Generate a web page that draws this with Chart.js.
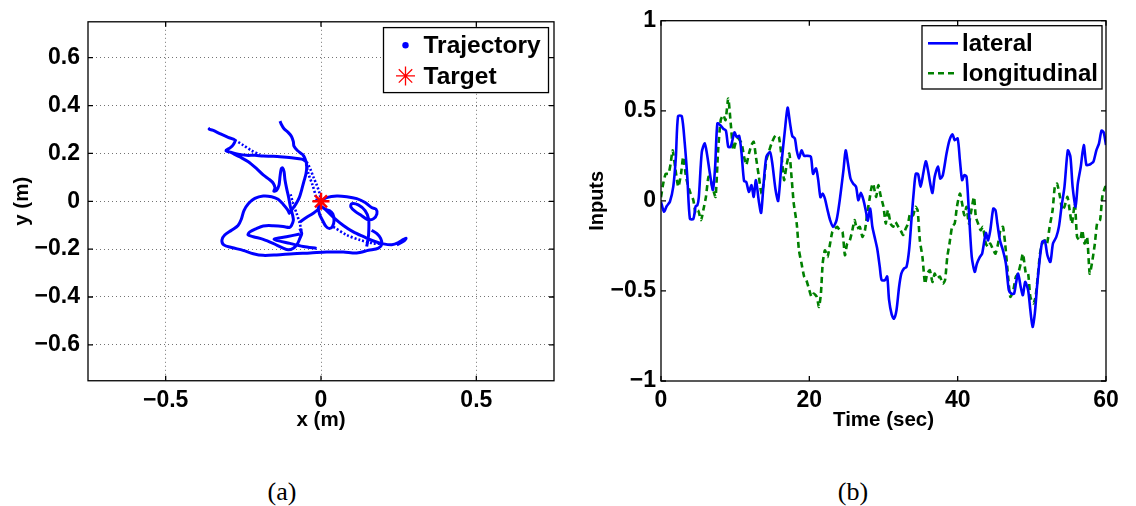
<!DOCTYPE html>
<html>
<head>
<meta charset="utf-8">
<script src="https://cdn.jsdelivr.net/npm/chart.js@4.4.1/dist/chart.umd.min.js"></script>
<style>
  html, body { margin: 0; padding: 0; background: #fff; }
  body { width: 1136px; height: 506px; position: relative; overflow: hidden; }
  .panel { position: absolute; top: 0; height: 440px; }
  #left { left: 0; width: 570px; }
  #right { left: 570px; width: 566px; }
  .cap { position: absolute; top: 477px; line-height: 30px; font-family: "Liberation Serif", "DejaVu Serif", serif;
         font-size: 26px; transform: translateX(-50%); }
</style>
</head>
<body>
<div class="panel" id="left"><canvas id="traj"></canvas></div>
<div class="panel" id="right"><canvas id="inputs"></canvas></div>
<div class="cap" style="left:282px">(a)</div>
<div class="cap" style="left:853px">(b)</div>
<script>
// ---- (a) planar trajectory, metres: pieces of the recorded path ----
const armNW = [[-0.356,0.305],[-0.360,0.301],[-0.349,0.297],[-0.326,0.283],[-0.299,0.267],[-0.277,0.256],
  [-0.283,0.235],[-0.294,0.222],[-0.306,0.212],[-0.291,0.205],[-0.267,0.197],[-0.240,0.192],[-0.213,0.192],
  [-0.186,0.189],[-0.154,0.188],[-0.122,0.185],[-0.089,0.181],[-0.062,0.176],[-0.046,0.165]];
const spurW = [[-0.288,0.203],[-0.261,0.185],[-0.234,0.165],[-0.208,0.137],[-0.186,0.110],[-0.165,0.090],
  [-0.154,0.076],[-0.148,0.056],[-0.152,0.042],[-0.143,0.046],[-0.135,0.069],[-0.132,0.103],[-0.128,0.135],
  [-0.124,0.140],[-0.119,0.124],[-0.116,0.090],[-0.111,0.056],[-0.104,0.015],[-0.098,-0.026],[-0.091,-0.060],
  [-0.089,-0.080],[-0.095,-0.101],[-0.102,-0.110],[-0.109,-0.107]];
const armN = [[-0.132,0.335],[-0.129,0.325],[-0.119,0.303],[-0.105,0.287],[-0.095,0.271],[-0.089,0.249],
  [-0.087,0.230],[-0.076,0.212],[-0.059,0.195],[-0.051,0.176],[-0.046,0.151],[-0.048,0.117],[-0.055,0.083],
  [-0.062,0.049],[-0.070,0.015],[-0.081,-0.012],[-0.095,-0.037],[-0.105,-0.053]];
const loopSW = [[-0.100,-0.053],[-0.109,-0.033],[-0.122,-0.012],[-0.138,0.008],[-0.159,0.019],[-0.186,0.022],
  [-0.213,0.012],[-0.234,-0.010],[-0.248,-0.039],[-0.256,-0.073],[-0.267,-0.101],[-0.288,-0.121],[-0.310,-0.141],
  [-0.319,-0.162],[-0.313,-0.182],[-0.288,-0.193],[-0.251,-0.205],[-0.218,-0.219],[-0.186,-0.226],[-0.143,-0.224],
  [-0.089,-0.219],[-0.035,-0.216],[0.018,-0.212],[0.072,-0.212],[0.115,-0.216],[0.153,-0.205],[0.185,-0.196],
  [0.196,-0.178],[0.192,-0.155],[0.180,-0.135],[0.163,-0.121]];
const loopInner = [[-0.105,-0.110],[-0.122,-0.105],[-0.154,-0.102],[-0.186,-0.103],[-0.208,-0.114],[-0.229,-0.128],
  [-0.235,-0.140],[-0.218,-0.148],[-0.186,-0.159],[-0.154,-0.176],[-0.122,-0.196],[-0.105,-0.203],[-0.089,-0.196],
  [-0.076,-0.178],[-0.068,-0.155],[-0.062,-0.135],[-0.068,-0.114]];
const tailS = [[-0.068,-0.137],[-0.111,-0.148],[-0.151,-0.159],[-0.100,-0.176],[-0.057,-0.189],[-0.014,-0.197]];
const linkCentre = [[-0.068,-0.087],[-0.046,-0.067],[-0.025,-0.050],[-0.009,-0.033],[-0.001,-0.012]];
const loopCentre = [[-0.001,-0.001],[-0.008,-0.026],[-0.005,-0.053],[0.005,-0.080],[0.016,-0.105],[0.027,-0.114],
  [0.037,-0.105],[0.042,-0.080],[0.038,-0.053],[0.027,-0.039],[0.013,-0.033],[-0.001,-0.019]];
const loopE = [[-0.001,0.001],[0.018,0.015],[0.051,0.022],[0.083,0.019],[0.115,0.011],[0.142,-0.005],[0.163,-0.026],
  [0.177,-0.033],[0.180,-0.053],[0.169,-0.073],[0.149,-0.076],[0.131,-0.060],[0.110,-0.042],[0.096,-0.023],
  [0.099,-0.010],[0.120,-0.015],[0.142,-0.039],[0.153,-0.073],[0.154,-0.114],[0.152,-0.155],[0.147,-0.189]];
const armE = [[0.013,-0.033],[0.040,-0.067],[0.072,-0.101],[0.104,-0.128],[0.137,-0.148],[0.169,-0.166],
  [0.201,-0.178],[0.228,-0.182],[0.249,-0.173],[0.266,-0.159],[0.274,-0.155],[0.268,-0.165],[0.244,-0.182]];
// stretches covered quickly (sparse samples)
const dotsNW = [[-0.046,0.165],[-0.035,0.137],[-0.025,0.103],[-0.014,0.069],[-0.005,0.035],[-0.001,0.008]];
const dotsNWshort = [[-0.277,0.256],[-0.251,0.235],[-0.224,0.212],[-0.197,0.195]];
const dotsN = [[-0.048,0.155],[-0.040,0.113],[-0.027,0.067],[-0.016,0.018],[-0.012,-0.005]];
const dotsInner = [[-0.098,0.029],[-0.089,-0.012],[-0.078,-0.053],[-0.068,-0.094],[-0.062,-0.128]];
const dotsSE = [[0.040,-0.107],[0.083,-0.141],[0.126,-0.162],[0.169,-0.176],[0.196,-0.178]];
const target = [0, 0];
const xTicksA = [-0.5, 0, 0.5];
const yTicksA = [-0.6, -0.4, -0.2, 0, 0.2, 0.4, 0.6];

// ---- (b) control inputs over time: [time (sec), value] ----
const lateral = [[0,-0.005],[0.4,-0.06],[0.76,-0.03],[1.2,-0.005],[1.66,0.08],[2.0,0.24],[2.3,0.47],[2.8,0.47],
  [3.2,0.32],[3.55,0.13],[3.9,-0.10],[4.36,-0.10],[4.67,-0.03],[4.9,-0.025],[5.1,0.02],[5.5,0.27],[5.9,0.32],
  [6.2,0.26],[6.6,0.15],[7.0,0.06],[7.3,0.19],[7.6,0.43],[8.0,0.42],[8.4,0.40],[8.75,0.39],[9.07,0.30],[9.4,0.30],
  [9.9,0.38],[10.2,0.355],[10.55,0.36],[10.87,0.26],[11.2,0.11],[11.5,0.105],[11.85,0.05],[12.2,0.087],[12.5,0.022],
  [12.8,0.115],[13.2,-0.005],[13.5,-0.067],[13.8,0.078],[14.2,0.244],[14.7,0.27],[15.0,0.21],[15.45,0.06],[15.8,0.0],
  [16.25,0.21],[16.7,0.39],[17.07,0.517],[17.4,0.43],[17.7,0.36],[18.05,0.345],[18.3,0.28],[18.6,0.235],[18.95,0.28],
  [19.3,0.25],[19.7,0.25],[20.2,0.245],[20.5,0.15],[20.9,0.18],[21.2,0.115],[21.5,0.02],[21.8,0.04],[22.1,0.013],
  [22.45,-0.05],[22.8,-0.107],[23.2,-0.145],[23.67,-0.107],[24.1,0.004],[24.6,0.17],[24.9,0.28],[25.2,0.21],
  [25.55,0.124],[25.9,0.096],[26.3,0.078],[26.6,0.004],[26.95,0.044],[27.3,0.004],[27.6,-0.052],[27.9,-0.11],
  [28.2,-0.043],[28.5,-0.144],[28.8,-0.2],[29.15,-0.265],[29.5,-0.367],[29.75,-0.44],[30.2,-0.44],[30.5,-0.42],
  [30.75,-0.55],[31.1,-0.63],[31.4,-0.654],[31.75,-0.607],[32.1,-0.478],[32.4,-0.404],[32.75,-0.376],[33.1,-0.367],
  [33.45,-0.274],[33.8,-0.089],[34.1,0.06],[34.35,0.15],[34.67,0.148],[35.0,0.078],[35.35,0.15],[35.7,0.22],
  [36.0,0.17],[36.3,0.096],[36.6,0.044],[36.9,0.133],[37.35,0.19],[37.65,0.124],[38.0,0.143],[38.5,0.263],
  [38.9,0.337],[39.3,0.37],[39.6,0.337],[40.0,0.346],[40.3,0.226],[40.6,0.115],[40.9,0.143],[41.2,0.133],
  [41.5,-0.052],[41.9,-0.311],[42.3,-0.394],[42.6,-0.348],[43.0,-0.311],[43.3,-0.293],[43.8,-0.178],[44.1,-0.219],
  [44.4,-0.163],[44.8,-0.043],[45.1,-0.052],[45.35,-0.126],[45.7,-0.219],[46.1,-0.274],[46.5,-0.348],[46.9,-0.496],
  [47.25,-0.515],[47.6,-0.515],[47.85,-0.46],[48.15,-0.404],[48.5,-0.478],[48.8,-0.524],[49.1,-0.45],[49.5,-0.496],
  [49.8,-0.607],[50.1,-0.7],[50.4,-0.626],[50.7,-0.478],[51.05,-0.33],[51.4,-0.228],[51.75,-0.222],[52.1,-0.302],
  [52.5,-0.339],[52.85,-0.237],[53.3,-0.2],[53.65,-0.144],[54.0,-0.033],[54.4,0.078],[54.85,0.28],[55.2,0.245],
  [55.5,0.078],[55.9,-0.033],[56.2,0.096],[56.6,0.19],[57.0,0.31],[57.35,0.2],[57.7,0.2],[58.0,0.207],[58.3,0.217],
  [58.7,0.28],[59.05,0.318],[59.4,0.39],[59.7,0.378],[60.0,0.31]];
const longitudinal = [[0,0.02],[0.3,0.096],[0.63,0.15],[1.0,0.15],[1.3,0.207],[1.57,0.28],[1.9,0.19],[2.33,0.078],
  [2.7,0.15],[3.0,0.244],[3.37,0.133],[3.7,0.078],[4.0,0.04],[4.36,0.004],[4.67,-0.07],[5.0,-0.052],[5.4,-0.107],
  [5.7,-0.052],[6.06,0.022],[6.4,0.133],[6.7,0.115],[7.05,0.06],[7.36,0.022],[7.7,0.28],[8.05,0.448],[8.4,0.476],
  [8.7,0.448],[9.07,0.568],[9.4,0.43],[9.75,0.28],[10.1,0.328],[10.4,0.346],[10.87,0.318],[11.2,0.244],[11.5,0.2],
  [11.86,0.263],[12.2,0.31],[12.5,0.328],[12.8,0.244],[13.2,0.133],[13.56,0.04],[13.9,0.115],[14.2,0.226],[14.6,0.28],
  [14.9,0.318],[15.3,0.355],[15.6,0.365],[15.9,0.355],[16.26,0.244],[16.6,0.115],[16.9,0.19],[17.3,0.263],[17.6,0.133],
  [17.9,-0.015],[18.3,-0.126],[18.6,-0.274],[18.95,-0.348],[19.3,-0.42],[19.6,-0.44],[20.0,-0.496],[20.3,-0.533],
  [20.6,-0.515],[21.0,-0.533],[21.3,-0.589],[21.56,-0.515],[21.8,-0.348],[22.1,-0.274],[22.45,-0.311],[22.8,-0.237],
  [23.1,-0.172],[23.45,-0.154],[23.76,-0.144],[24.1,-0.163],[24.47,-0.172],[24.8,-0.302],[25.1,-0.237],[25.46,-0.219],
  [25.8,-0.163],[26.1,-0.107],[26.4,-0.154],[26.8,-0.144],[27.16,-0.2],[27.5,-0.163],[27.8,-0.07],[28.1,0.004],
  [28.4,0.078],[28.6,0.096],[29.0,0.022],[29.3,0.087],[29.6,0.031],[30.0,-0.033],[30.3,-0.126],[30.6,-0.052],
  [30.96,-0.126],[31.3,-0.144],[31.6,-0.117],[32.0,-0.144],[32.3,-0.163],[32.65,-0.19],[33.0,-0.154],[33.3,-0.126],
  [33.6,-0.07],[34.0,-0.08],[34.3,-0.033],[34.6,-0.052],[34.9,-0.219],[35.25,-0.311],[35.6,-0.46],[35.9,-0.404],
  [36.25,-0.385],[36.6,-0.45],[36.9,-0.404],[37.2,-0.43],[37.6,-0.42],[38.0,-0.46],[38.3,-0.44],[38.6,-0.311],
  [38.9,-0.237],[39.25,-0.144],[39.6,-0.126],[39.9,-0.033],[40.3,0.04],[40.6,-0.015],[40.9,-0.08],[41.2,-0.033],
  [41.5,-0.126],[41.85,-0.052],[42.2,0.022],[42.45,-0.089],[42.75,-0.126],[43.1,-0.163],[43.4,-0.144],[43.8,-0.237],
  [44.1,-0.256],[44.4,-0.237],[44.8,-0.274],[45.1,-0.293],[45.45,-0.237],[45.76,-0.163],[46.1,-0.144],[46.4,-0.237],
  [46.8,-0.42],[47.1,-0.533],[47.5,-0.496],[47.85,-0.42],[48.15,-0.404],[48.5,-0.348],[48.8,-0.293],[49.2,-0.404],
  [49.5,-0.404],[49.8,-0.533],[50.2,-0.57],[50.5,-0.533],[50.8,-0.42],[51.1,-0.293],[51.4,-0.237],[51.75,-0.219],
  [52.05,-0.237],[52.4,-0.144],[52.8,-0.052],[53.1,0.078],[53.4,0.096],[53.8,0.022],[54.1,-0.052],[54.4,-0.033],
  [54.8,0.022],[55.1,-0.052],[55.4,-0.126],[55.8,-0.015],[56.1,-0.2],[56.5,-0.219],[56.8,-0.163],[57.1,-0.237],
  [57.45,-0.2],[57.8,-0.404],[58.1,-0.348],[58.5,-0.237],[58.8,-0.126],[59.2,-0.107],[59.5,0.022],[59.9,0.078],[60,0.06]];
const xTicksB = [0, 20, 40, 60];
const yTicksB = [-1, -0.5, 0, 0.5, 1];

// ---- helpers ----
const FONT = '"Liberation Sans", Arial, Helvetica, sans-serif';
Chart.defaults.font.family = FONT;
Chart.defaults.font.weight = 'bold';
Chart.defaults.color = '#000';

const fmt = v => v === 0 ? '0' : (v < 0 ? '\u2212' : '') + String(Math.abs(v));
const toPts = arr => arr.map(p => ({x: p[0], y: p[1]}));
// join separate strokes into one dataset, with gaps between them
const joinStrokes = strokes => strokes.reduce((acc, s, i) => {
  if (i) acc.push({x: null, y: null});
  return acc.concat(toPts(s));
}, []);
const fixTicks = vals => scale => { scale.ticks = vals.map(v => ({value: v})); };

// axes box with inward tick marks on all four sides
const frameTicks = {
  id: 'frameTicks',
  afterDatasetsDraw(chart, args, opts) {
    const {ctx, chartArea: a, scales} = chart;
    const len = opts.length || 5;
    ctx.save();
    ctx.strokeStyle = '#000';
    ctx.lineWidth = 1.3;
    ctx.beginPath();
    scales.x.ticks.forEach(t => {
      const p = scales.x.getPixelForValue(t.value);
      ctx.moveTo(p, a.bottom); ctx.lineTo(p, a.bottom - len);
      ctx.moveTo(p, a.top); ctx.lineTo(p, a.top + len);
    });
    scales.y.ticks.forEach(t => {
      const p = scales.y.getPixelForValue(t.value);
      ctx.moveTo(a.left, p); ctx.lineTo(a.left + len, p);
      ctx.moveTo(a.right, p); ctx.lineTo(a.right - len, p);
    });
    ctx.stroke();
    ctx.strokeRect(a.left, a.top, a.right - a.left, a.bottom - a.top);
    ctx.restore();
  }
};

// boxed legend in the upper right corner of the plot area
const boxLegend = {
  id: 'boxLegend',
  afterDraw(chart, args, o) {
    const {ctx, chartArea: a} = chart;
    const x0 = a.right - o.right - o.width, y0 = a.top + o.top;
    ctx.save();
    ctx.fillStyle = '#fff';
    ctx.fillRect(x0, y0, o.width, o.height);
    ctx.lineWidth = 1.3;
    ctx.strokeStyle = '#000';
    ctx.strokeRect(x0, y0, o.width, o.height);
    ctx.font = 'bold ' + o.fontSize + 'px ' + FONT;
    ctx.textBaseline = 'middle';
    let row = 0;
    chart.data.datasets.forEach(ds => {
      if (!ds.label) return;
      const cy = y0 + o.firstRow + row * o.rowGap;
      ctx.save();
      ctx.strokeStyle = ds.borderColor;
      ctx.fillStyle = ds.borderColor;
      if (o.kind === 'marker') {
        const mx = x0 + o.markerX;
        if (ds.legendStyle === 'star') {
          Chart.helpers.drawPoint(ctx, {pointStyle: 'star', radius: ds.pointRadius + 1, rotation: 0, borderWidth: ds.pointBorderWidth}, mx, cy);
        } else {
          ctx.beginPath(); ctx.arc(mx, cy, ds.legendRadius, 0, Math.PI * 2); ctx.fill();
        }
      } else {
        ctx.lineWidth = ds.borderWidth;
        ctx.setLineDash(ds.borderDash || []);
        ctx.beginPath(); ctx.moveTo(x0 + o.lineFrom, cy); ctx.lineTo(x0 + o.lineTo, cy); ctx.stroke();
      }
      ctx.restore();
      ctx.fillStyle = '#000';
      ctx.fillText(ds.label, x0 + o.textX, cy + 1);
      row++;
    });
    ctx.restore();
  }
};

// ---- (a) trajectory ----
new Chart(document.getElementById('traj'), {
  type: 'scatter',
  plugins: [frameTicks, boxLegend],
  data: {
    datasets: [
      {label: 'Trajectory', data: joinStrokes([armNW, spurW, armN, loopSW, loopInner, tailS, linkCentre, loopCentre, loopE, armE]),
       showLine: true, spanGaps: false, tension: 0.3, borderColor: '#0000ff', backgroundColor: '#0000ff',
       borderWidth: 3, pointRadius: 0, legendRadius: 3.2, order: 1},
      {data: joinStrokes([dotsNW, dotsNWshort, dotsN, dotsInner, dotsSE]),
       showLine: true, spanGaps: false, tension: 0.3, borderColor: '#0000ff', borderWidth: 2.6,
       borderDash: [2, 2], pointRadius: 0, order: 2},
      {label: 'Target', data: [{x: target[0], y: target[1]}], legendStyle: 'star',
       pointStyle: 'star', pointRadius: 8.5, pointBorderWidth: 2.5, borderColor: '#ff0000', backgroundColor: '#ff0000', order: 0}
    ]
  },
  options: {
    responsive: true, maintainAspectRatio: false, animation: false, events: [],
    layout: {padding: {top: 13, right: 16, left: 0, bottom: 0}},
    plugins: {
      legend: {display: false}, tooltip: {enabled: false},
      frameTicks: {length: 5},
      boxLegend: {kind: 'marker', width: 165, height: 65, right: 5.5, top: 5.8, firstRow: 17.7, rowGap: 30.6,
                  markerX: 22, textX: 40, fontSize: 24.5}
    },
    scales: {
      x: {
        type: 'linear', min: -0.75, max: 0.75,
        afterBuildTicks: fixTicks(xTicksA),
        afterFit: s => { s.height = 59.25; },
        grid: {color: 'rgba(0,0,0,0.55)', lineWidth: 1, drawTicks: false},
        border: {display: false, dash: [1, 3]},
        ticks: {padding: 6, font: {size: 23}, callback: fmt, autoSkip: false, maxRotation: 0},
        title: {display: true, text: 'x (m)', font: {size: 20.5}, padding: {top: 0, bottom: 7}}
      },
      y: {
        type: 'linear', min: -0.75, max: 0.75,
        afterBuildTicks: fixTicks(yTicksA),
        afterFit: s => { s.width = 88; },
        grid: {color: 'rgba(0,0,0,0.55)', lineWidth: 1, drawTicks: false},
        border: {display: false, dash: [1, 3]},
        ticks: {padding: 8, font: {size: 23}, callback: fmt, autoSkip: false},
        title: {display: true, text: 'y (m)', font: {size: 20.5}, padding: {top: 10, bottom: 0}}
      }
    }
  }
});

// ---- (b) inputs ----
new Chart(document.getElementById('inputs'), {
  type: 'line',
  plugins: [frameTicks, boxLegend],
  data: {
    datasets: [
      {label: 'lateral', data: toPts(lateral), borderColor: '#0000ff', borderWidth: 2.6,
       pointRadius: 0, tension: 0.25, fill: false},
      {label: 'longitudinal', data: toPts(longitudinal), borderColor: '#008000', borderWidth: 2.6,
       borderDash: [6, 4], pointRadius: 0, tension: 0.2, fill: false}
    ]
  },
  options: {
    responsive: true, maintainAspectRatio: false, animation: false, events: [],
    layout: {padding: {top: 20.7, right: 30, left: 0, bottom: 0}},
    plugins: {
      legend: {display: false}, tooltip: {enabled: false},
      frameTicks: {length: 5},
      boxLegend: {kind: 'line', width: 180, height: 63.3, right: 4, top: 5, firstRow: 17.6, rowGap: 30,
                  lineFrom: 6, lineTo: 36, textX: 40, fontSize: 24}
    },
    scales: {
      x: {
        type: 'linear', min: 0, max: 60,
        afterBuildTicks: fixTicks(xTicksB),
        afterFit: s => { s.height = 59; },
        grid: {display: false, drawTicks: false},
        border: {display: false},
        ticks: {padding: 6, font: {size: 23}, callback: fmt, autoSkip: false, maxRotation: 0},
        title: {display: true, text: 'Time (sec)', font: {size: 20.5}, padding: {top: 0, bottom: 7}}
      },
      y: {
        type: 'linear', min: -1, max: 1,
        afterBuildTicks: fixTicks(yTicksB),
        afterFit: s => { s.width = 91; },
        grid: {display: false, drawTicks: false},
        border: {display: false},
        ticks: {padding: 5, font: {size: 23}, callback: fmt, autoSkip: false},
        title: {display: true, text: 'Inputs', font: {size: 20}, padding: {top: 15, bottom: 0}}
      }
    }
  }
});
</script>
</body>
</html>
